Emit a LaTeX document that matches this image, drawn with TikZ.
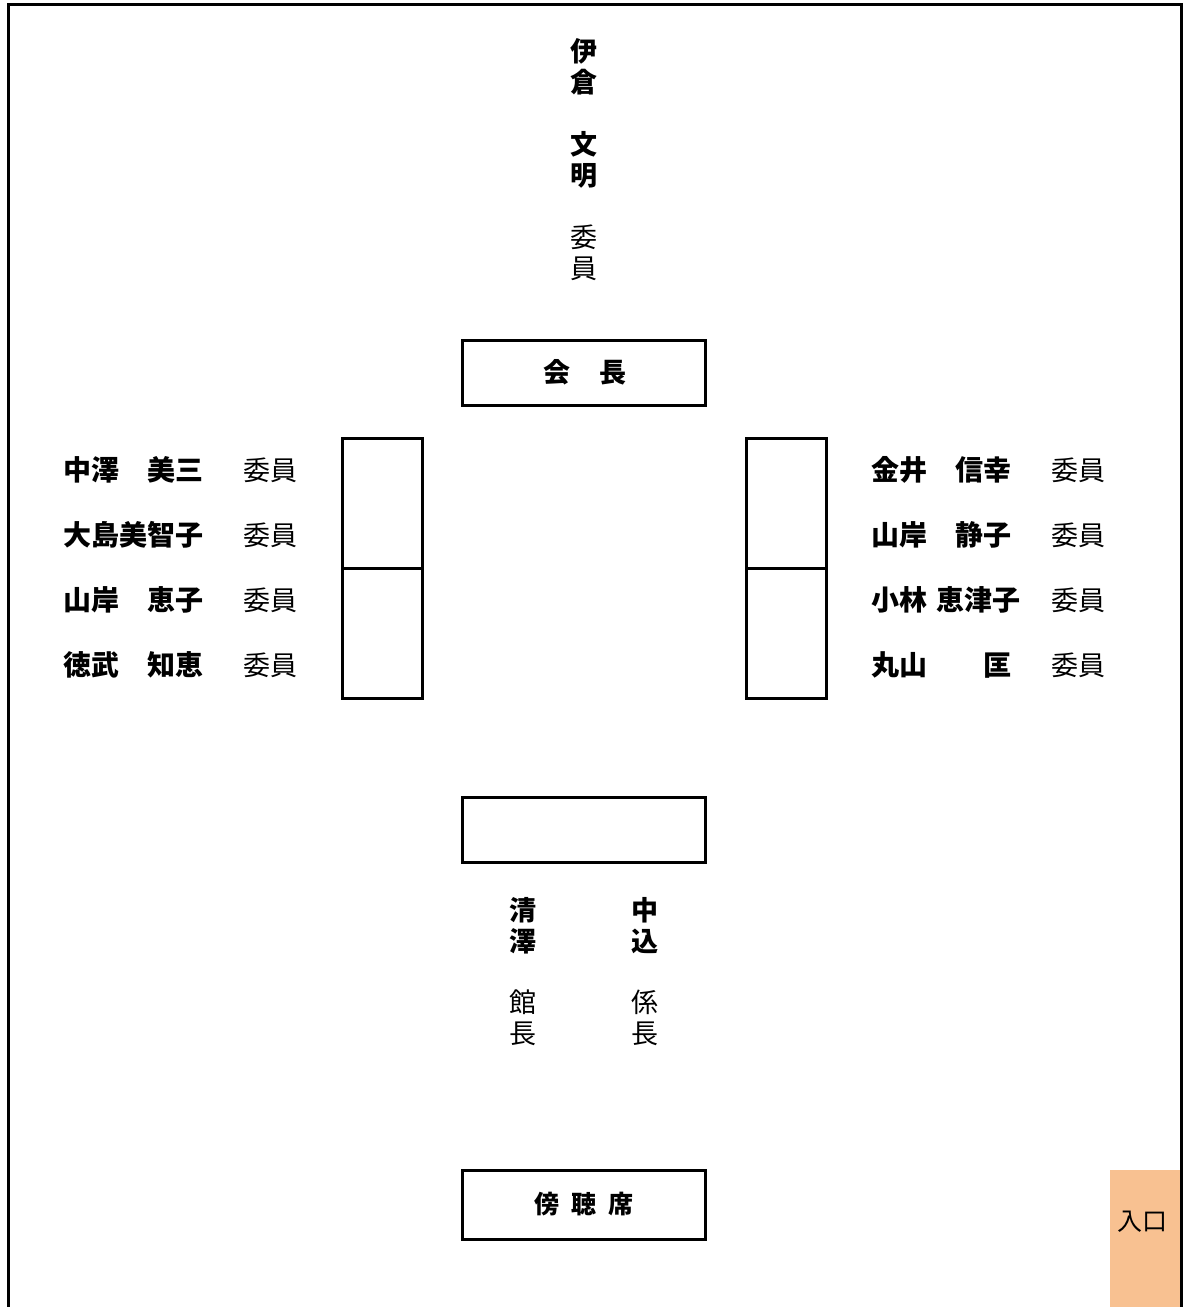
\documentclass[tikz,border=0pt]{standalone}
\usepackage{fontspec}
\setmainfont{Noto Sans CJK JP}
\definecolor{entr}{HTML}{F8C191}
\begin{document}
\begin{tikzpicture}[x=1pt,y=-1pt,
  seat/.style={draw,line width=3pt,inner sep=0pt},
  nm/.style={font=\fontsize{28}{30}\selectfont\bfseries, inner sep=0pt, anchor=east},
  ttl/.style={font=\fontsize{27}{30}\selectfont, inner sep=0pt},
  vb/.style={font=\fontsize{27}{31}\selectfont\bfseries, inner sep=0pt, align=center},
  vr/.style={font=\fontsize{27}{31}\selectfont, inner sep=0pt, align=center}]
\useasboundingbox (0,0) rectangle (1183,1307);
% entrance
\node[fill=entr, minimum width=71pt, minimum height=137pt, inner sep=0pt, anchor=north west] (ent) at (1110,1170) {};
\node[font=\fontsize{25}{28}\selectfont, inner sep=0pt] (entl) at (1142,1222) {入口};
% frame
\coordinate (fbl) at (8,1307);
\coordinate (ftl) at (8,4);
\coordinate (ftr) at (1181,4);
\coordinate (fbr) at (1181,1307);
\draw[line width=3pt] (fbl) -- (ftl) -- (ftr) -- (fbr);
% top member
\node[vb] (itakura) at (584,67) {伊\\倉};
\node[vb] (fumiaki) at (584,160) {文\\明};
\node[vr] (iin0) at (584,253) {委\\員};
% chair
\node[seat, minimum width=243pt, minimum height=65pt, font=\fontsize{27}{30}\selectfont\bfseries] (chair) at (583.5,372.5) {\hspace{3pt}会\hspace{0.05em}　長};
% tables
\node[seat, minimum width=80pt, minimum height=130pt] (lt1) at (382,503) {};
\node[seat, minimum width=80pt, minimum height=130pt] (lt2) at (382,633) {};
\node[seat, minimum width=80pt, minimum height=130pt] (rt1) at (786,503) {};
\node[seat, minimum width=80pt, minimum height=130pt] (rt2) at (786,633) {};
% left names
\node[nm] (l1) at (204,470) {中澤　美三};
\node[nm] (l2) at (204,535) {大島美智子};
\node[nm] (l3) at (204,600) {山岸　恵子};
\node[nm] (l4) at (204,665) {徳武　知恵};
\node[ttl] (l1t) at (270,470) {委員};
\node[ttl] (l2t) at (270,535) {委員};
\node[ttl] (l3t) at (270,600) {委員};
\node[ttl] (l4t) at (270,665) {委員};
% right names
\node[nm] (r1) at (1012,470) {金井　信幸};
\node[nm] (r2) at (1012,535) {山岸　静子};
\node[nm] (r3) at (1021,600) {小林\hspace{0.35em}恵津子};
\node[nm] (r4) at (1012,665) {丸山　　匡};
\node[ttl] (r1t) at (1078,470) {委員};
\node[ttl] (r2t) at (1078,535) {委員};
\node[ttl] (r3t) at (1078,600) {委員};
\node[ttl] (r4t) at (1078,665) {委員};
% staff table
\node[seat, minimum width=243pt, minimum height=65pt] (staff) at (583.5,829.5) {};
\node[vb] (kiyosawa) at (523,926) {清\\澤};
\node[vr] (kancho) at (523,1018) {館\\長};
\node[vb] (nakagome) at (645,926) {中\\込};
\node[vr] (kakari) at (645,1018) {係\\長};
% gallery
\node[seat, minimum width=243pt, minimum height=69pt, font=\fontsize{25}{30}\selectfont\bfseries] (gallery) at (583.5,1204.5) {傍\hspace{12pt}聴\hspace{12pt}席};
\end{tikzpicture}
\end{document}
